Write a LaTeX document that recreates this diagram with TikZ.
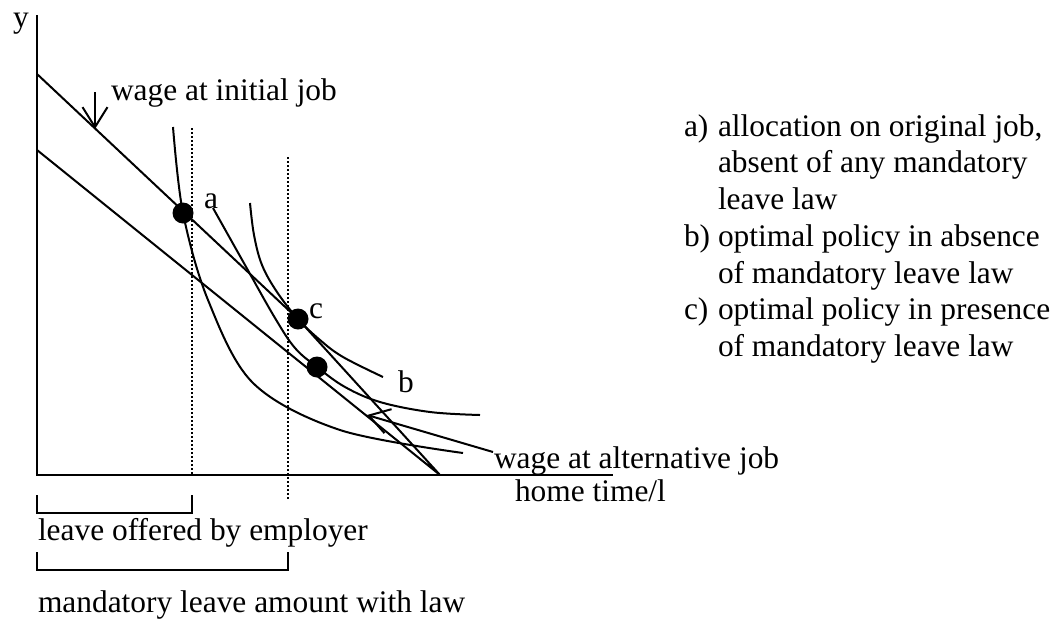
\documentclass[tikz,border=0pt]{standalone}
\usepackage{fontspec}
\setmainfont{Liberation Serif}
\usetikzlibrary{arrows.meta}
\newcommand{\lbl}[4]{\node[anchor=base west,inner sep=0pt] (#1) at (#2,#3){#4};}

\begin{document}
\begin{tikzpicture}[x=0.4pt,y=-0.4pt,line width=0.8pt,font=\fontsize{12.56}{14.7}\selectfont,
  barb/.style={-{Straight Barb[length=8pt,width=10pt]}},
  guide/.style={line width=0.7pt,dash pattern=on 0.7pt off 0.9pt}]
\useasboundingbox (0,0) rectangle (1058,620);
\foreach \n/\x/\y in {o/37/475,ytop/37/15,xend/613/475,p0/37/74,q0/37/150,foot/440/475,a/183/213,c/298/319,b/317/367,wi0/95/92,wi1/95/129,wa0/493/452,wa1/367/415}{\coordinate (\n) at (\x,\y);}
% axes and budget lines
\draw (ytop)--(o)--(xend);
\draw (p0)--(c)--(foot) (q0)--(foot);
% indifference curves
\draw plot[smooth,tension=0.55] coordinates {(173,127) (183,213) (208,300) (253,383) (340,430) (463,453)};
\draw plot[smooth,tension=0.6] coordinates {(213,208) (245,265) (275,318) (295,348) (317,367) (345,387) (380,402) (430,412) (480,415)};
\draw plot[smooth,tension=0.6] coordinates {(250,203) (254,235) (262,265) (277,292) (298,319) (320,340) (343,357) (383,377)};
\draw[guide] (192,128)--(192,475) (288,157)--(288,500);
\foreach \n in {a,c,b}\fill (\n) circle (10.5);
\draw[barb] (wi0)--(wi1);
\draw[barb] (wa0)--(wa1);
% brackets
\draw (37,495)--(37,513)--(192,513)--(192,495);
\draw (37,552)--(37,570)--(288,570)--(288,552);
\lbl{ylab}{12}{27}{y}
\lbl{wini}{110}{100}{wage at initial job}
\lbl{la}{203}{208}{a}
\lbl{lc}{308}{318}{c}
\lbl{lb}{397}{392}{b}
\lbl{walt}{493}{468}{wage at alternative job}
\lbl{xlab}{514}{501}{home time/l}
\lbl{lemp}{37}{540}{leave offered by employer}
\lbl{llaw}{37}{612}{mandatory leave amount with law}
\node[anchor=base west,inner sep=0pt] (key) at (683,136){\begin{tabular}[t]{@{}l@{ }l@{}}
a) & allocation on original job,\\ & absent of any mandatory\\ & leave law\\
b) & optimal policy in absence\\ & of mandatory leave law\\
c) & optimal policy in presence\\ & of mandatory leave law\end{tabular}};
\end{tikzpicture}
\end{document}
